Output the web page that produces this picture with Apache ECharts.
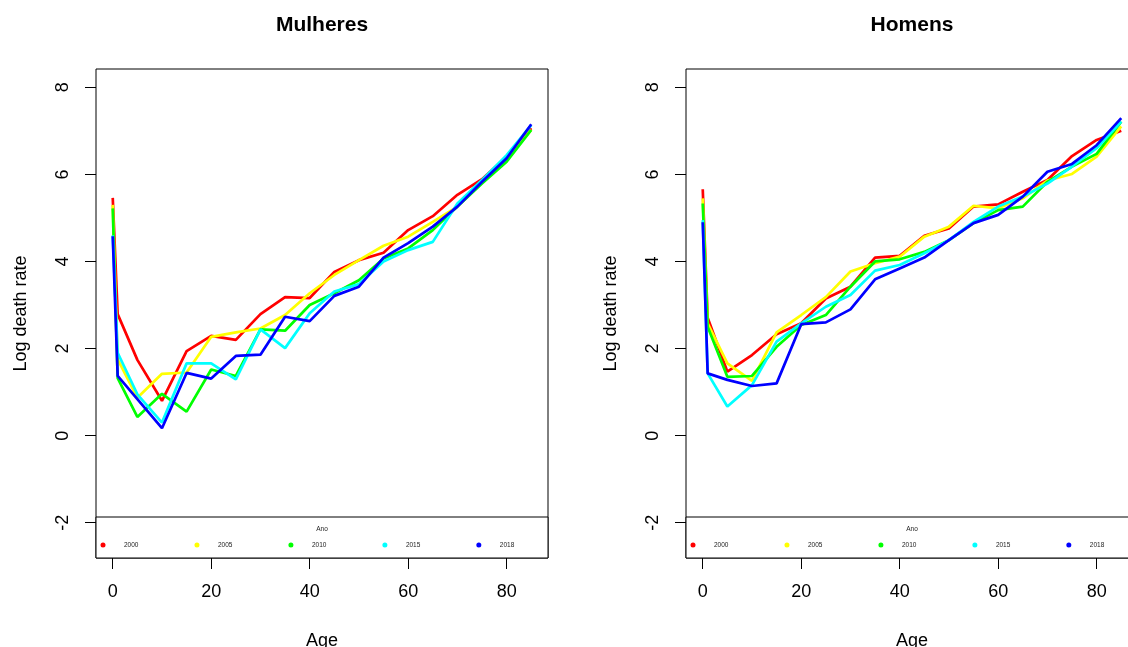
<!DOCTYPE html>
<html>
<head>
<meta charset="utf-8">
<script src="https://cdn.jsdelivr.net/npm/echarts@6/dist/echarts.min.js"></script>
<style>
html,body{margin:0;padding:0;background:#fff;}
#chart{width:1128px;height:647px;}
</style>
</head>
<body>
<div id="chart"></div>
<script>
const ages = [0, 1, 5, 10, 15, 20, 25, 30, 35, 40, 45, 50, 55, 60, 65, 70, 75, 80, 85];
const years = ['2000', '2005', '2010', '2015', '2018'];
const panelTitles = ['Mulheres', 'Homens'];
const xTicks = [0, 20, 40, 60, 80];
const yTicks = [-2, 0, 2, 4, 6, 8];

// Mulheres (log death rate)
const f2000 = [5.46, 2.79, 1.74, 0.80, 1.94, 2.29, 2.20, 2.79, 3.18, 3.16, 3.76, 4.03, 4.20, 4.72, 5.04, 5.53, 5.89, 6.41, 7.06];
const f2005 = [5.30, 1.75, 0.87, 1.42, 1.45, 2.27, 2.37, 2.46, 2.77, 3.27, 3.69, 4.03, 4.36, 4.57, 4.91, 5.26, 5.83, 6.33, 7.02];
const f2010 = [5.22, 1.32, 0.43, 0.96, 0.55, 1.52, 1.37, 2.44, 2.41, 3.00, 3.27, 3.57, 4.07, 4.30, 4.72, 5.26, 5.79, 6.29, 7.02];
const f2015 = [4.60, 1.90, 0.95, 0.30, 1.66, 1.66, 1.29, 2.44, 2.01, 2.81, 3.31, 3.48, 4.00, 4.26, 4.45, 5.33, 5.87, 6.44, 7.13];
const f2018 = [4.58, 1.37, 0.84, 0.17, 1.44, 1.31, 1.83, 1.86, 2.73, 2.63, 3.21, 3.42, 4.09, 4.42, 4.80, 5.26, 5.83, 6.37, 7.15];

// Homens (log death rate)
const m2000 = [5.66, 2.71, 1.47, 1.85, 2.33, 2.58, 3.15, 3.42, 4.09, 4.13, 4.59, 4.76, 5.26, 5.31, 5.60, 5.87, 6.42, 6.79, 7.00];
const m2005 = [5.45, 2.58, 1.66, 1.26, 2.37, 2.77, 3.18, 3.77, 3.96, 4.11, 4.57, 4.80, 5.28, 5.22, 5.45, 5.86, 6.01, 6.41, 7.10];
const m2010 = [5.33, 2.50, 1.35, 1.37, 2.04, 2.54, 2.77, 3.42, 4.00, 4.05, 4.22, 4.49, 4.88, 5.18, 5.26, 5.83, 6.18, 6.47, 7.21];
const m2015 = [4.95, 1.43, 0.67, 1.16, 2.16, 2.58, 2.96, 3.23, 3.79, 3.92, 4.19, 4.49, 4.91, 5.26, 5.49, 5.79, 6.18, 6.60, 7.21];
const m2018 = [4.90, 1.43, 1.28, 1.14, 1.20, 2.56, 2.60, 2.90, 3.59, 3.84, 4.09, 4.49, 4.88, 5.07, 5.49, 6.06, 6.24, 6.67, 7.29];

const colors = ['#ff0000', '#ffff00', '#00ff00', '#00ffff', '#0000ff'];
const panels = [[f2000, f2005, f2010, f2015, f2018], [m2000, m2005, m2010, m2015, m2018]];

const FONT = '"Liberation Sans", Arial, Helvetica, sans-serif';
const gridLeft = [96, 686];
const gridTop = 69, gridW = 452, gridH = 489;

const grids = [], xAxes = [], yAxes = [], series = [], titles = [], legends = [], graphics = [];
panels.forEach((vals, p) => {
  grids.push({left: gridLeft[p], top: gridTop, width: gridW, height: gridH, show: true,
    borderColor: '#000', borderWidth: 1, backgroundColor: 'transparent', containLabel: false,
    outerBoundsMode: 'none'});
  xAxes.push({type: 'value', gridIndex: p, min: -3.4, max: 88.4, position: 'bottom',
    name: 'Age', nameLocation: 'middle', nameGap: 74,
    nameTextStyle: {fontFamily: FONT, fontSize: 18, color: '#000'},
    axisLine: {show: false, onZero: false}, splitLine: {show: false},
    axisTick: {show: true, inside: false, length: 11, lineStyle: {color: '#000', width: 1}, customValues: xTicks},
    axisLabel: {show: true, margin: 25, fontFamily: FONT, fontSize: 18, color: '#000', customValues: xTicks}
  });
  yAxes.push({type: 'value', gridIndex: p, min: -2.81, max: 8.42, position: 'left',
    name: 'Log death rate', nameLocation: 'middle', nameGap: 66, nameRotate: 90,
    nameTextStyle: {fontFamily: FONT, fontSize: 18, color: '#000'},
    axisLine: {show: false, onZero: false}, splitLine: {show: false},
    axisTick: {show: true, inside: false, length: 11, lineStyle: {color: '#000', width: 1}, customValues: yTicks},
    axisLabel: {show: true, rotate: 90, margin: 24, fontFamily: FONT, fontSize: 18, color: '#000', customValues: yTicks}
  });
  vals.forEach((arr, i) => {
    series.push({type: 'line', name: years[i], xAxisIndex: p, yAxisIndex: p,
      data: ages.map((a, k) => [a, arr[k]]),
      showSymbol: false, symbol: 'none', lineStyle: {color: colors[i], width: 2.7},
      itemStyle: {color: colors[i]}, z: 2 + i});
  });
  const cx = gridLeft[p] + gridW / 2;
  titles.push({text: panelTitles[p], left: cx, top: 15, textAlign: 'center', padding: 0,
    textStyle: {fontFamily: FONT, fontSize: 21, fontWeight: 'bold', color: '#000'}});
  titles.push({text: 'Ano', left: cx, top: 526, textAlign: 'center', padding: 0,
    textStyle: {fontFamily: FONT, fontSize: 6.5, fontWeight: 'normal', color: '#222'}});
  graphics.push({type: 'rect', shape: {x: gridLeft[p], y: 517, width: gridW, height: 41},
    style: {fill: '#fff', stroke: '#000', lineWidth: 1}, z: 1, silent: true});
  legends.push({data: years, orient: 'horizontal', left: gridLeft[p] + 4.5, top: 541,
    padding: 0, icon: 'circle', itemWidth: 5, itemHeight: 5, itemGap: 56,
    textStyle: {fontFamily: FONT, fontSize: 6.5, color: '#222', padding: [0, 0, 0, 13.5], lineHeight: 8},
    selectedMode: false, z: 10});
});

const chart = echarts.init(document.getElementById('chart'), null, {renderer: 'canvas'});
chart.setOption({
  animation: false,
  backgroundColor: '#fff',
  title: titles,
  legend: legends,
  grid: grids,
  xAxis: xAxes,
  yAxis: yAxes,
  graphic: graphics,
  series: series
});
</script>
</body>
</html>
